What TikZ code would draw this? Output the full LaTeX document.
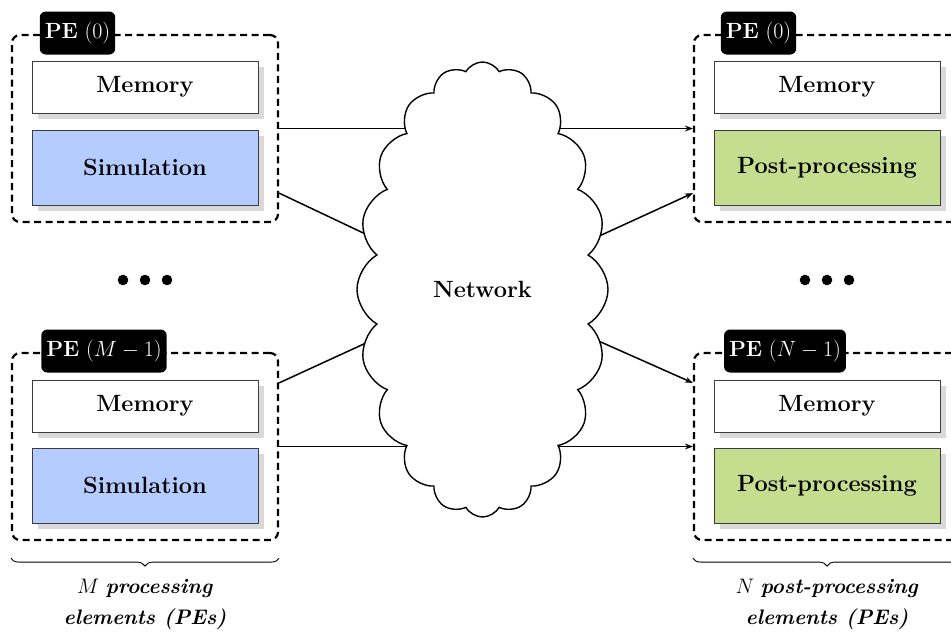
\RequirePackage{fix-cm}
\documentclass[tikz,border=0pt]{standalone}
\usepackage{fontspec}
\usetikzlibrary{shapes.symbols,shadows,arrows.meta,decorations.pathreplacing,backgrounds,calc}
\definecolor{simblue}{RGB}{180,204,255}
\definecolor{postgreen}{RGB}{197,221,142}
\definecolor{boxline}{RGB}{60,60,60}
\begin{document}
\begin{tikzpicture}[x=1pt,y=-1pt,
  pebox/.style={draw, line width=2.2pt, dash pattern=on 7pt off 4.5pt, rounded corners=8pt,
    minimum width=266pt, minimum height=187pt, inner sep=0pt},
  pelabel/.style={fill=black, text=white, rounded corners=6pt, inner xsep=5pt, inner ysep=0pt,
    minimum height=43pt, font=\fontsize{22}{26}\selectfont},
  membox/.style={draw=boxline, line width=0.9pt, fill=white, minimum width=226pt, minimum height=52pt,
    inner sep=0pt, font=\fontsize{23.5}{28}\selectfont\bfseries,
    drop shadow={shadow xshift=6pt, shadow yshift=-6pt, fill=black!15, opacity=1}},
  simbox/.style={membox, fill=simblue, minimum height=75pt},
  postbox/.style={membox, fill=postgreen, minimum height=75pt},
  conn/.style={line width=1.5pt},
  arr/.style={line width=1.5pt, -{Stealth[length=8pt,width=6pt]}},
  dotnode/.style={circle, fill=black, minimum size=10.6pt, inner sep=0pt},
  bracedeco/.style={decorate, decoration={brace, amplitude=8pt, mirror}, line width=0.9pt},
  caption/.style={align=center, anchor=north, inner sep=0pt, font=\fontsize{21}{31}\selectfont}
]
\useasboundingbox (0,0) rectangle (951,633);

% Left side
\node[pebox] (peL1) at (145,128.5) {};
\node[membox] (memL1) at (145,87) {Memory};
\node[simbox] (simL1) at (145,167.5) {Simulation};
\node[pelabel] (lblL1) at (77.5,33) {\textbf{PE} (0)};

\node[pebox] (peL2) at (145,446.5) {};
\node[membox] (memL2) at (145,406) {Memory};
\node[simbox] (simL2) at (145,485.5) {Simulation};
\node[pelabel] (lblL2) at (104,351) {\textbf{PE} $(M-1)$};

% Right side
\node[pebox] (peR1) at (827,128.5) {};
\node[membox] (memR1) at (827,87) {Memory};
\node[postbox] (postR1) at (827,167.5) {Post-processing};
\node[pelabel] (lblR1) at (758.5,33) {\textbf{PE} (0)};

\node[pebox] (peR2) at (827,446.5) {};
\node[membox] (memR2) at (827,406) {Memory};
\node[postbox] (postR2) at (827,485.5) {Post-processing};
\node[pelabel] (lblR2) at (785,351) {\textbf{PE} $(N-1)$};

% Dots
\node[dotnode] (dL1) at (123,280) {};
\node[dotnode] (dL2) at (145,280) {};
\node[dotnode] (dL3) at (167,280) {};
\node[dotnode] (dR1) at (805,280) {};
\node[dotnode] (dR2) at (827,280) {};
\node[dotnode] (dR3) at (849,280) {};

% Network cloud
\node[cloud, draw, fill=white, line width=1.4pt, cloud puffs=20, cloud puff arc=120,
  cloud ignores aspect, minimum width=251pt, minimum height=455pt, inner sep=0pt,
  font=\fontsize{23.5}{28}\selectfont\bfseries] (net) at (482.5,289.5) {Network};

% connection points
\coordinate (oL1) at ($(peL1.south east)+(0,-30)$);
\coordinate (oL2) at ($(peL2.north east)+(0,31)$);
\coordinate (iR1) at ($(peR1.south west)+(0,-30)$);
\coordinate (iR2) at ($(peR2.north west)+(0,31)$);

\begin{scope}[on background layer]
  \draw[conn] (peL1.east) -- (peL1.east -| net.center);
  \draw[conn] (oL1) -- (net.center);
  \draw[conn] (oL2) -- (net.center);
  \draw[conn] (peL2.east) -- (peL2.east -| net.center);
  \draw[arr] (peR1.west -| net.center) -- (peR1.west);
  \draw[arr] (net.center) -- (iR1);
  \draw[arr] (net.center) -- (iR2);
  \draw[arr] (peR2.west -| net.center) -- (peR2.west);
\end{scope}

% Braces
\coordinate (bL1) at ($(peL2.south west)+(0,17)$);
\coordinate (bL2) at ($(peL2.south east)+(0,17)$);
\coordinate (bR1) at ($(peR2.south west)+(0,17)$);
\coordinate (bR2) at ($(peR2.south east)+(0,17)$);
\draw[bracedeco] (bL1) -- (bL2);
\draw[bracedeco] (bR1) -- (bR2);

\node[caption] (capL) at (145,579) {$M$ \textbf{\textit{processing}}\\ \textbf{\textit{elements (PEs)}}};
\node[caption] (capR) at (827,579) {$N$ \textbf{\textit{post-processing}}\\ \textbf{\textit{elements (PEs)}}};
\end{tikzpicture}
\end{document}
